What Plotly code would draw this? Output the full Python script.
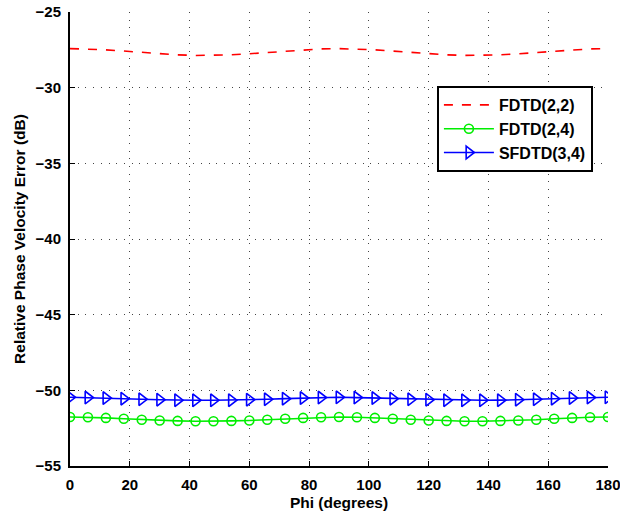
import plotly.graph_objects as go

# Propagation angle (degrees)
phi = [0, 6, 12, 18, 24, 30, 36, 42, 48, 54, 60, 66, 72, 78, 84, 90,
       96, 102, 108, 114, 120, 126, 132, 138, 144, 150, 156, 162, 168, 174, 180]

# Relative phase velocity error (dB) for each scheme
fdtd22 = [-27.42, -27.44, -27.50, -27.58, -27.67, -27.76, -27.83, -27.87, -27.87, -27.83,
          -27.76, -27.67, -27.58, -27.50, -27.44, -27.42, -27.44, -27.50, -27.58, -27.67,
          -27.76, -27.83, -27.87, -27.87, -27.83, -27.76, -27.67, -27.58, -27.50, -27.44, -27.42]
fdtd24 = [-51.76, -51.78, -51.82, -51.88, -51.94, -51.99, -52.02, -52.04, -52.04, -52.02,
          -51.99, -51.94, -51.88, -51.82, -51.78, -51.76, -51.78, -51.82, -51.88, -51.94,
          -51.99, -52.02, -52.04, -52.04, -52.02, -51.99, -51.94, -51.88, -51.82, -51.78, -51.76]
sfdtd34 = [-50.46, -50.48, -50.51, -50.55, -50.59, -50.62, -50.65, -50.66, -50.66, -50.65,
           -50.62, -50.59, -50.55, -50.51, -50.48, -50.46, -50.48, -50.51, -50.55, -50.59,
           -50.62, -50.65, -50.66, -50.66, -50.65, -50.62, -50.59, -50.55, -50.51, -50.48, -50.46]

x_ticks = [0, 20, 40, 60, 80, 100, 120, 140, 160, 180]
y_ticks = [-55, -50, -45, -40, -35, -30, -25]

font_family = "Liberation Sans, Arial, sans-serif"

fig = go.Figure()
fig.add_trace(go.Scatter(
    x=phi, y=fdtd22, name="FDTD(2,2)", mode="lines",
    line=dict(color="#ff0000", width=1.6, dash="dash"),
))
fig.add_trace(go.Scatter(
    x=phi, y=fdtd24, name="FDTD(2,4)", mode="lines+markers",
    line=dict(color="#00ee00", width=1.6),
    marker=dict(symbol="circle-open", size=9, color="#00ee00", line=dict(width=1.6)),
))
fig.add_trace(go.Scatter(
    x=phi, y=sfdtd34, name="SFDTD(3,4)", mode="lines+markers",
    line=dict(color="#0000ff", width=1.6),
    marker=dict(symbol="triangle-right-open", size=11, color="#0000ff", line=dict(width=1.6)),
))

axis_common = dict(
    showline=True, linecolor="black", linewidth=2,
    ticks="inside", ticklen=5, tickwidth=1, tickcolor="black",
    showgrid=True, gridcolor="#444444", griddash="1px,6.7px", gridwidth=1,
    zeroline=False, mirror=False, ticklabeloverflow="allow", automargin=False,
    tickfont=dict(family=font_family, size=15, color="black", weight="bold"),
)

fig.update_xaxes(
    range=[0, 180], tickvals=x_ticks, ticklabelstandoff=4,
    title=dict(text="Phi (degrees)", standoff=5,
               font=dict(family=font_family, size=15.5, color="black", weight="bold")),
    **axis_common,
)
fig.update_yaxes(
    range=[-55, -25], tickvals=y_ticks, ticklabelstandoff=4,
    title=dict(text="Relative Phase Velocity Error (dB)", standoff=6,
               font=dict(family=font_family, size=15.5, color="black", weight="bold")),
    **axis_common,
)

fig.update_layout(
    width=620, height=513,
    margin=dict(l=70, r=12, t=12, b=47),
    paper_bgcolor="white", plot_bgcolor="white",
    showlegend=True,
    legend=dict(
        x=0.682, y=0.837, xanchor="left", yanchor="top",
        bgcolor="white", bordercolor="black", borderwidth=2,
        font=dict(family=font_family, size=16, color="black", weight="bold"),
        tracegroupgap=0, itemwidth=50,
    ),
)

fig.write_html("out.html")
